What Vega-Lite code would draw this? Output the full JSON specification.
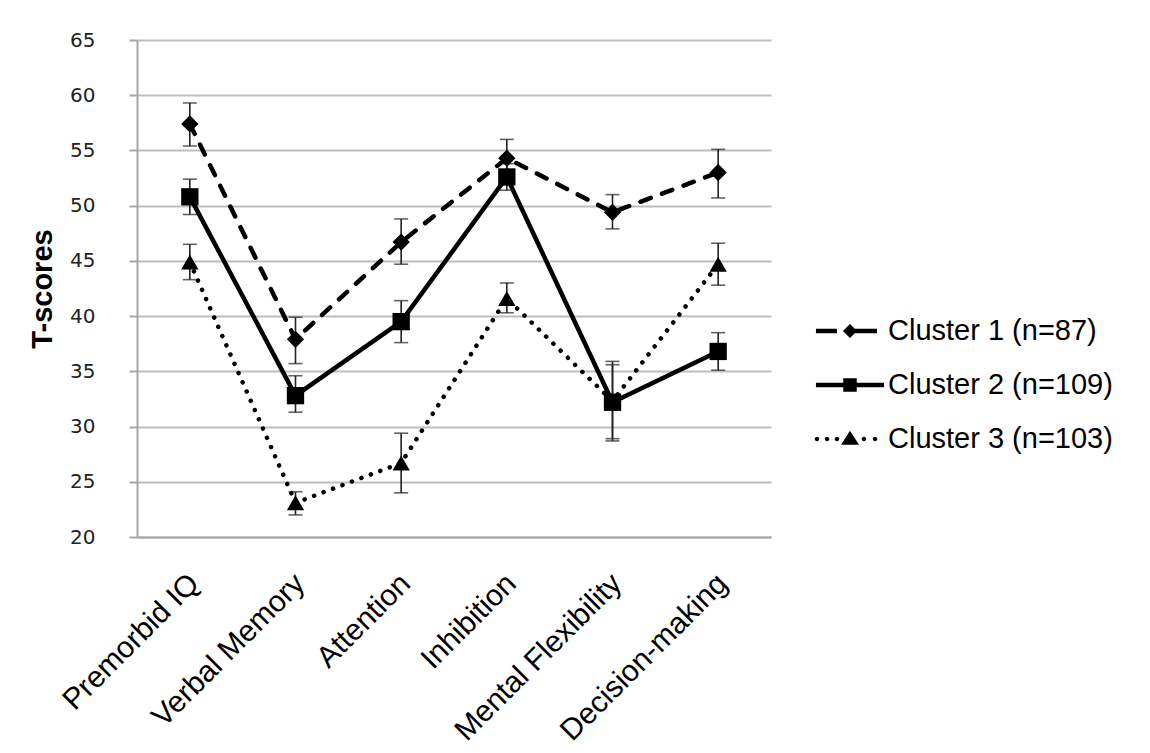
{
  "$schema": "https://vega.github.io/schema/vega-lite/v6.json",
  "autosize": "none",
  "width": 634,
  "height": 497,
  "padding": {"left": 137, "top": 40, "right": 379, "bottom": 216},
  "background": "white",
  "config": {"view": {"stroke": null}},
  "data": {"values": [
    {"cluster": "Cluster 1 (n=87)", "test": "Premorbid IQ", "mean": 57.4, "lo": 55.4, "hi": 59.3},
    {"cluster": "Cluster 1 (n=87)", "test": "Verbal Memory", "mean": 37.9, "lo": 35.7, "hi": 39.9},
    {"cluster": "Cluster 1 (n=87)", "test": "Attention", "mean": 46.7, "lo": 44.7, "hi": 48.8},
    {"cluster": "Cluster 1 (n=87)", "test": "Inhibition", "mean": 54.3, "lo": 52.6, "hi": 56.0},
    {"cluster": "Cluster 1 (n=87)", "test": "Mental Flexibility", "mean": 49.4, "lo": 47.9, "hi": 51.0},
    {"cluster": "Cluster 1 (n=87)", "test": "Decision-making", "mean": 53.0, "lo": 50.7, "hi": 55.1},
    {"cluster": "Cluster 2 (n=109)", "test": "Premorbid IQ", "mean": 50.8, "lo": 49.2, "hi": 52.4},
    {"cluster": "Cluster 2 (n=109)", "test": "Verbal Memory", "mean": 32.8, "lo": 31.3, "hi": 34.6},
    {"cluster": "Cluster 2 (n=109)", "test": "Attention", "mean": 39.5, "lo": 37.6, "hi": 41.4},
    {"cluster": "Cluster 2 (n=109)", "test": "Inhibition", "mean": 52.6, "lo": 51.4, "hi": 53.8},
    {"cluster": "Cluster 2 (n=109)", "test": "Mental Flexibility", "mean": 32.2, "lo": 28.7, "hi": 35.9},
    {"cluster": "Cluster 2 (n=109)", "test": "Decision-making", "mean": 36.8, "lo": 35.1, "hi": 38.5},
    {"cluster": "Cluster 3 (n=103)", "test": "Premorbid IQ", "mean": 44.9, "lo": 43.3, "hi": 46.5},
    {"cluster": "Cluster 3 (n=103)", "test": "Verbal Memory", "mean": 23.1, "lo": 22.0, "hi": 24.1},
    {"cluster": "Cluster 3 (n=103)", "test": "Attention", "mean": 26.7, "lo": 24.0, "hi": 29.4},
    {"cluster": "Cluster 3 (n=103)", "test": "Inhibition", "mean": 41.6, "lo": 40.3, "hi": 43.0},
    {"cluster": "Cluster 3 (n=103)", "test": "Mental Flexibility", "mean": 32.3, "lo": 28.9, "hi": 35.6},
    {"cluster": "Cluster 3 (n=103)", "test": "Decision-making", "mean": 44.7, "lo": 42.8, "hi": 46.6}
  ]},
  "encoding": {
    "x": {
      "field": "test", "type": "nominal",
      "sort": ["Premorbid IQ", "Verbal Memory", "Attention", "Inhibition", "Mental Flexibility", "Decision-making"],
      "axis": {
        "title": null, "labelAngle": -45, "labelAlign": "right", "labelBaseline": "top",
        "labelFont": "Liberation Sans", "labelFontSize": 30, "labelColor": "black", "labelLimit": 0,
        "labelPadding": 31, "labelOffset": -6, "ticks": false, "grid": false,
        "domainColor": "#a6a6a6", "domainWidth": 2
      }
    },
    "y": {
      "field": "mean", "type": "quantitative", "title": "T-scores",
      "scale": {"domain": [20, 65], "nice": false, "zero": false},
      "axis": {
        "titleFont": "Liberation Sans", "titleFontSize": 29, "titleFontWeight": "bold",
        "titleColor": "black", "titlePadding": 12,
        "values": [20, 25, 30, 35, 40, 45, 50, 55, 60, 65],
        "labelFont": "DejaVu Sans", "labelFontSize": 20, "labelColor": "#222", "labelPadding": 34,
        "tickSize": 8, "tickColor": "#a6a6a6", "tickWidth": 2,
        "domainColor": "#a6a6a6", "domainWidth": 2,
        "grid": true, "gridColor": "#bdbdbd", "gridWidth": 2
      }
    }
  },
  "resolve": {"scale": {"shape": "independent"}, "legend": {"shape": "independent"}},
  "layer": [
    {
      "transform": [{"filter": "datum.cluster === 'Cluster 1 (n=87)'"}],
      "mark": {"type": "line", "color": "black", "strokeWidth": 4.5, "strokeCap": "round", "strokeDash": [11, 12]}
    },
    {
      "transform": [{"filter": "datum.cluster === 'Cluster 2 (n=109)'"}],
      "mark": {"type": "line", "color": "black", "strokeWidth": 4.5}
    },
    {
      "transform": [{"filter": "datum.cluster === 'Cluster 3 (n=103)'"}],
      "mark": {"type": "line", "color": "black", "strokeWidth": 4.5, "strokeCap": "round", "strokeDash": [0.1, 10]}
    },
    {
      "mark": {"type": "errorbar", "rule": {"color": "#222", "strokeWidth": 1.6}, "ticks": {"color": "#222", "size": 14, "thickness": 1.6}},
      "encoding": {
        "y": {"field": "lo", "type": "quantitative", "title": "T-scores"},
        "y2": {"field": "hi"},
        "detail": {"field": "cluster"}
      }
    },
    {
      "mark": {"type": "point", "filled": true, "color": "black", "opacity": 1, "size": 300},
      "encoding": {
        "shape": {
          "field": "cluster", "type": "nominal",
          "scale": {"domain": ["Cluster 1 (n=87)", "Cluster 2 (n=109)", "Cluster 3 (n=103)"], "range": ["diamond", "square", "triangle-up"]},
          "legend": null
        }
      }
    },
    {
      "transform": [{"filter": "false"}],
      "mark": {"type": "point", "filled": true, "color": "black", "opacity": 1, "size": 900},
      "encoding": {
        "shape": {
          "field": "cluster", "type": "nominal",
          "scale": {
            "domain": ["Cluster 1 (n=87)", "Cluster 2 (n=109)", "Cluster 3 (n=103)"],
            "range": [
              "M-2.27,-0.15H-0.87V0.15H-2.27ZM0,-0.47L0.47,0L0,0.47L-0.47,0ZM0.3,-0.15H1.8V0.15H0.3Z",
              "M-2.27,-0.15H2.27V0.15H-2.27ZM-0.45,-0.45H0.45V0.45H-0.45Z",
              "M-2.35,0a0.15,0.15 0 1,0 0.3,0a0.15,0.15 0 1,0 -0.3,0ZM-1.68,0a0.15,0.15 0 1,0 0.3,0a0.15,0.15 0 1,0 -0.3,0ZM-1.02,0a0.15,0.15 0 1,0 0.3,0a0.15,0.15 0 1,0 -0.3,0ZM0,-0.55L0.6,0.38L-0.6,0.38ZM0.78,0a0.15,0.15 0 1,0 0.3,0a0.15,0.15 0 1,0 -0.3,0ZM1.52,0a0.15,0.15 0 1,0 0.3,0a0.15,0.15 0 1,0 -0.3,0Z"
            ]
          },
          "legend": {
            "orient": "none", "legendX": 697, "legendY": 275, "title": null, "padding": 0,
            "labelFont": "Liberation Sans", "labelFontSize": 29, "labelColor": "black", "labelLimit": 0,
            "symbolSize": 900, "rowPadding": 23, "labelOffset": 22,
            "symbolFillColor": "black", "symbolOpacity": 1
          }
        }
      }
    }
  ]
}
